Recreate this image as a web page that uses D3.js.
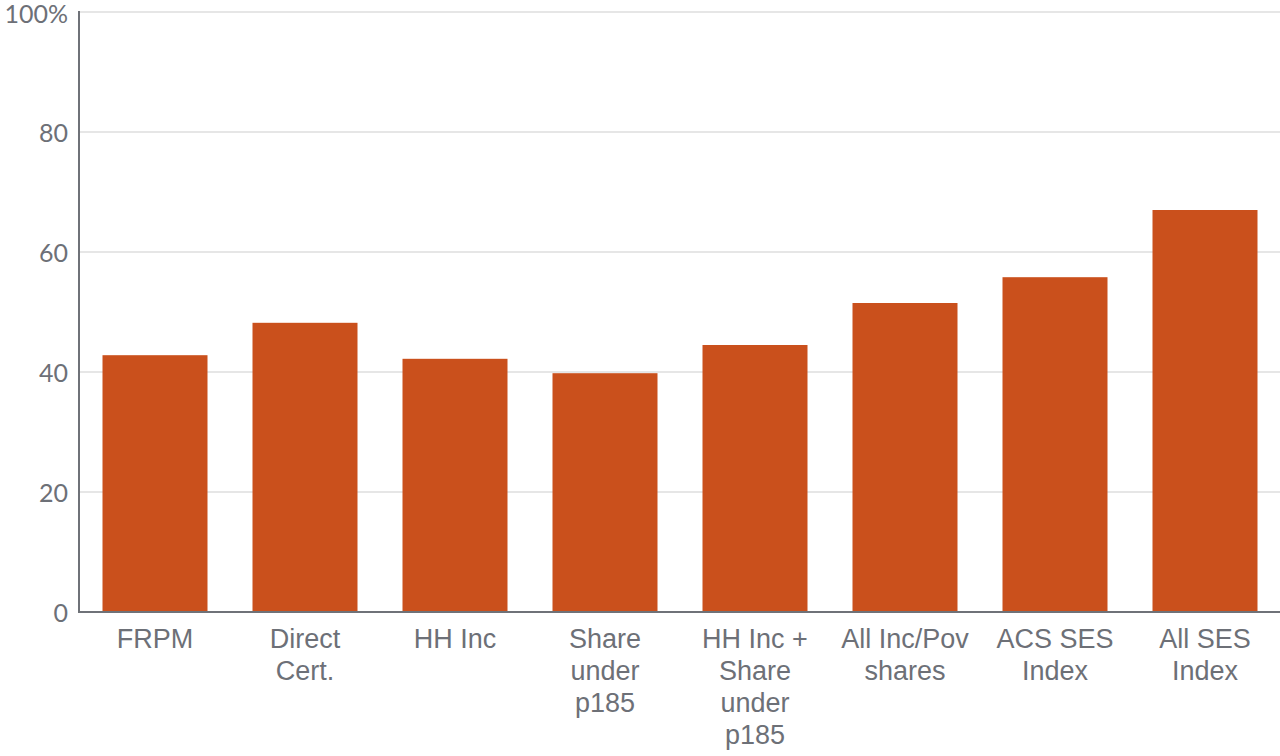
<!DOCTYPE html>
<html lang="en">
<head>
    <meta charset="UTF-8">
    <title>SES measures</title>
    <script src="https://d3js.org/d3.v7.min.js"></script>
    <style>
        body { margin: 0; background: #fff; }
        .grid line { stroke: #e6e6e6; stroke-width: 2px; }
        .ytick { font: 25px Lato, sans-serif; fill: #6d7077; }
        .xlab { font: 27px "Liberation Sans", Arial, sans-serif; fill: #6d7077; }
    </style>
</head>
<body>
    <script>
        // categories (line breaks as in the chart)
        const categories = [
            ["FRPM"],
            ["Direct", "Cert."],
            ["HH Inc"],
            ["Share", "under", "p185"],
            ["HH Inc +", "Share", "under", "p185"],
            ["All Inc/Pov", "shares"],
            ["ACS SES", "Index"],
            ["All SES", "Index"]
        ];
        const values = [42.8, 48.2, 42.2, 39.8, 44.5, 51.5, 55.8, 67.0];
        const yTicks = [0, 20, 40, 60, 80, 100];

        const width = 1280, height = 756;
        const margin = { left: 80, right: 0, top: 12, bottom: 144 };

        const svg = d3.select("body").append("svg")
            .attr("width", width)
            .attr("height", height);

        const x = d3.scaleBand()
            .domain(d3.range(categories.length))
            .range([margin.left, width - margin.right])
            .paddingInner(0.3)
            .paddingOuter(0.15);

        const y = d3.scaleLinear()
            .domain([0, 100])
            .range([height - margin.bottom, margin.top]);

        // gridlines
        svg.append("g").attr("class", "grid")
            .selectAll("line")
            .data(yTicks.filter(d => d > 0))
            .join("line")
            .attr("x1", margin.left)
            .attr("x2", width)
            .attr("y1", d => y(d))
            .attr("y2", d => y(d));

        // bars
        svg.append("g")
            .selectAll("rect")
            .data(values)
            .join("rect")
            .attr("x", (d, i) => x(i))
            .attr("width", x.bandwidth())
            .attr("y", d => y(d))
            .attr("height", d => y(0) - y(d))
            .attr("fill", "#ca501c");

        // axes lines
        svg.append("line")
            .attr("x1", margin.left - 1).attr("x2", margin.left - 1)
            .attr("y1", y(100) - 1).attr("y2", y(0) + 1)
            .attr("stroke", "#6f7278").attr("stroke-width", 2);
        svg.append("line")
            .attr("x1", margin.left - 2).attr("x2", width)
            .attr("y1", y(0)).attr("y2", y(0))
            .attr("stroke", "#6f7278").attr("stroke-width", 2);

        // y tick labels
        svg.append("g")
            .selectAll("text")
            .data(yTicks)
            .join("text")
            .attr("class", "ytick")
            .attr("x", margin.left - 12)
            .attr("y", d => y(d))
            .attr("dy", d => d === 100 ? "0.45em" : "0.4em")
            .attr("text-anchor", "end")
            .text(d => d === 100 ? "100%" : d);

        // x labels
        const xl = svg.append("g")
            .selectAll("text")
            .data(categories)
            .join("text")
            .attr("class", "xlab")
            .attr("text-anchor", "middle")
            .attr("x", (d, i) => x(i) + x.bandwidth() / 2)
            .attr("y", y(0) + 36);
        xl.selectAll("tspan")
            .data(d => d)
            .join("tspan")
            .attr("x", function () { return this.parentNode.getAttribute("x"); })
            .attr("dy", (d, i) => i === 0 ? 0 : 32)
            .text(d => d);
    </script>
</body>
</html>
